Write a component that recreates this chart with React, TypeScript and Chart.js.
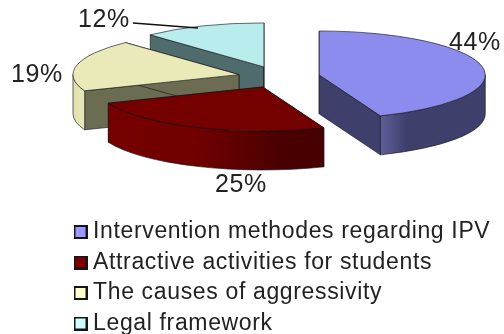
import React, { useEffect, useRef } from "react";
import { Chart, registerables } from "chart.js";

Chart.register(...registerables);

const categories = [
  "Intervention methodes regarding IPV",
  "Attractive activities for students",
  "The causes of aggressivity",
  "Legal framework",
];
const shares = [44, 25, 19, 12];

const topColors = ["#8c8cee", "#750000", "#eaeab9", "#b9ecec"];
const swatchColors = ["#9999ff", "#800000", "#ffffcc", "#ccffff"];
const radialWallColors = ["#3f3f6c", "#4a0000", "#6c6c52", "#506b6b"];
const outerWallStops: [number, string][][] = [
  [[0, "#5e5e98"], [0.25, "#3f3f6c"], [1, "#3f3f6c"]],
  [[0, "#750000"], [0.4, "#720000"], [0.8, "#4a0000"], [1, "#480000"]],
  [[0, "#dfdfae"], [1, "#e9e9b9"]],
  [[0, "#506b6b"], [1, "#506b6b"]],
];
// Centres of the percentage labels on the canvas.
const labelCentres: [number, number][] = [
  [475, 42],
  [241, 184],
  [37, 74],
  [104, 19],
];

const SQUASH = 0.265;
const DEPTH = 39;
const EXPLODE = 41;
const PIE_RADIUS = 166;
const PIE_CENTRE_Y = 77;
const TEXT_COLOR = "#222222";
const OUTLINE = "rgba(20,20,30,0.8)";
const FONT = '"Liberation Sans", Arial, sans-serif';

type Slice = { cx: number; cy: number; r: number; start: number; end: number };

// Screen-space geometry of one exploded slice, taken from its arc element.
function sliceOf(arc: any): Slice {
  const mid = (arc.startAngle + arc.endAngle) / 2;
  return {
    cx: arc.x + Math.cos(mid) * EXPLODE,
    cy: arc.y + Math.sin(mid) * EXPLODE * SQUASH,
    r: arc.outerRadius,
    start: arc.startAngle,
    end: arc.endAngle,
  };
}

// Pulls an arc away from the pie centre along its middle angle whenever it paints.
function explodeArc(arc: any) {
  if (arc.exploded) return;
  arc.exploded = true;
  const paint = arc.draw;
  arc.draw = function (ctx: CanvasRenderingContext2D) {
    const mid = (arc.startAngle + arc.endAngle) / 2;
    ctx.save();
    ctx.translate(Math.cos(mid) * EXPLODE, Math.sin(mid) * EXPLODE);
    paint.call(arc, ctx);
    ctx.restore();
  };
}

function rimPoint(s: Slice, angle: number) {
  return { x: s.cx + Math.cos(angle) * s.r, y: s.cy + Math.sin(angle) * s.r * SQUASH };
}

function drawRadialWall(ctx: CanvasRenderingContext2D, s: Slice, angle: number, color: string) {
  const p = rimPoint(s, angle);
  ctx.beginPath();
  ctx.moveTo(s.cx, s.cy);
  ctx.lineTo(p.x, p.y);
  ctx.lineTo(p.x, p.y + DEPTH);
  ctx.lineTo(s.cx, s.cy + DEPTH);
  ctx.closePath();
  ctx.fillStyle = color;
  ctx.fill();
  ctx.stroke();
}

function drawOuterWall(ctx: CanvasRenderingContext2D, s: Slice, stops: [number, string][]) {
  const from = Math.max(s.start, 0);
  const to = Math.min(s.end, Math.PI);
  if (to <= from) return;
  const a = rimPoint(s, from);
  const b = rimPoint(s, to);
  const left = Math.min(a.x, b.x);
  const right = Math.max(a.x, b.x);
  const grad = ctx.createLinearGradient(left, 0, right, 0);
  // Gradient runs from the left end of the visible rim to the right end.
  stops.forEach(([at, color]) => grad.addColorStop(at, color));
  ctx.beginPath();
  ctx.ellipse(s.cx, s.cy, s.r, s.r * SQUASH, 0, from, to);
  ctx.ellipse(s.cx, s.cy + DEPTH, s.r, s.r * SQUASH, 0, to, from, true);
  ctx.closePath();
  ctx.fillStyle = grad;
  ctx.fill();
  ctx.stroke();
}

const pie3d = {
  id: "pie3d",
  beforeDatasetsDraw(chart: any) {
    const { ctx } = chart;
    const arcs = chart.getDatasetMeta(0).data;
    arcs.forEach(explodeArc);
    ctx.save();
    ctx.strokeStyle = OUTLINE;
    ctx.lineWidth = 0.8;
    // Back slices first so nearer walls paint over them.
    for (let i = arcs.length - 1; i >= 0; i--) {
      const s = sliceOf(arcs[i]);
      drawRadialWall(ctx, s, s.start, radialWallColors[i]);
      drawRadialWall(ctx, s, s.end, radialWallColors[i]);
      drawOuterWall(ctx, s, outerWallStops[i]);
    }
    ctx.restore();
    // Flatten the pie tops into ellipses about the pie centre.
    const cy = arcs[0].y;
    ctx.save();
    ctx.translate(0, cy);
    ctx.scale(1, SQUASH);
    ctx.translate(0, -cy);
  },
  afterDatasetsDraw(chart: any) {
    const { ctx } = chart;
    ctx.restore();
    const arcs = chart.getDatasetMeta(0).data;
    ctx.save();
    ctx.strokeStyle = OUTLINE;
    ctx.lineWidth = 0.8;
    arcs.forEach((arc: any) => {
      const s = sliceOf(arc);
      ctx.beginPath();
      ctx.moveTo(s.cx, s.cy);
      ctx.ellipse(s.cx, s.cy, s.r, s.r * SQUASH, 0, s.start, s.end);
      ctx.closePath();
      ctx.stroke();
    });

    // Leader from the smallest share's label to its slice.
    const small = labelCentres[3];
    ctx.strokeStyle = "#111111";
    ctx.lineWidth = 1.6;
    ctx.beginPath();
    ctx.moveTo(small[0] + 29, small[1] + 4);
    ctx.lineTo(small[0] + 94, small[1] + 9);
    ctx.stroke();

    ctx.fillStyle = TEXT_COLOR;
    ctx.font = `25px ${FONT}`;
    ctx.textAlign = "center";
    ctx.textBaseline = "middle";
    shares.forEach((v, i) => {
      ctx.fillText(`${v}%`, labelCentres[i][0], labelCentres[i][1] + 1.5);
    });
    ctx.restore();
  },
};

// Moves the legend column into place under the pie; the pie's own area stays above it.
const legendPlacement = {
  id: "legendPlacement",
  afterLayout(chart: any) {
    const legend = chart.legend;
    legend.left = 72;
    legend.right = 512;
    legend.width = 440;
    legend.top = 213;
    legend.bottom = 334;
    legend.height = 121;
    // Pie centre is independent of how tall the legend measured itself.
    chart.chartArea.top = 0;
    chart.chartArea.bottom = PIE_CENTRE_Y * 2;
    chart.chartArea.height = PIE_CENTRE_Y * 2;
    chart.chartArea.left = 54;
    chart.chartArea.right = 504;
    chart.chartArea.width = 450;
  },
  beforeDraw(chart: any) {
    chart.ctx.letterSpacing = "0.65px";
  },
};

function makeSwatch(color: string) {
  const c = document.createElement("canvas");
  c.width = 14;
  c.height = 14;
  const g = c.getContext("2d")!;
  g.fillStyle = color;
  g.fillRect(1, 1, 12, 12);
  g.strokeStyle = "#151515";
  g.lineWidth = 2;
  g.strokeRect(1, 1, 12, 12);
  return c;
}

export default function App() {
  const ref = useRef<HTMLCanvasElement>(null);

  useEffect(() => {
    const swatches = swatchColors.map(makeSwatch);
    const chart = new Chart(ref.current!, {
      type: "pie",
      data: {
        labels: categories,
        datasets: [
          {
            data: shares,
            backgroundColor: topColors,
            borderWidth: 0,
            clip: false,
          } as any,
        ],
      },
      options: {
        responsive: false,
        animation: false,
        radius: PIE_RADIUS,
        cutout: "0%",
        layout: { padding: 0 },
        plugins: {
          tooltip: { enabled: false },
          legend: {
            position: "bottom",
            align: "start",
            maxWidth: 440,
            labels: {
              usePointStyle: true,
              boxWidth: 2,
              boxHeight: 2,
              padding: 7.5,
              color: TEXT_COLOR,
              font: { family: FONT, size: 23 },
              generateLabels: () =>
                categories.map((text, i) => ({
                  text,
                  index: i,
                  hidden: false,
                  pointStyle: swatches[i],
                  fillStyle: swatchColors[i],
                  strokeStyle: "#151515",
                  lineWidth: 0,
                  fontColor: TEXT_COLOR,
                })) as any,
            },
          } as any,
        },
      } as any,
      plugins: [pie3d, legendPlacement],
    });
    return () => chart.destroy();
  }, []);

  return (
    <canvas
      ref={ref}
      width={504}
      height={334}
      style={{ position: "fixed", left: 0, top: 0, display: "block" }}
    />
  );
}
